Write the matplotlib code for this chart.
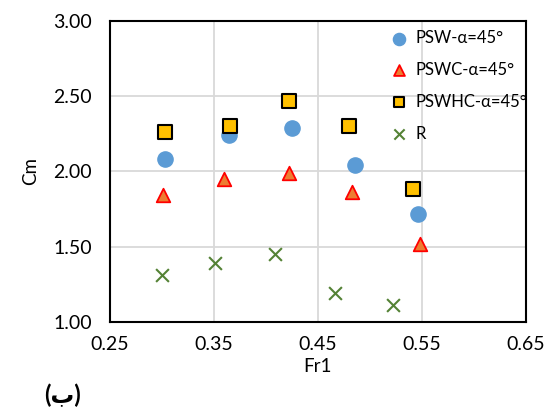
import matplotlib as mpl
mpl.rcParams['figure.dpi'] = 100
mpl.rcParams['font.family'] = ['Lato', 'DejaVu Sans']
import matplotlib.pyplot as plt

# Fr1 (eje x) y Cm (eje y) para cada serie
fr_psw = [0.303, 0.364, 0.425, 0.486, 0.546]
cm_psw = [2.08, 2.24, 2.29, 2.04, 1.72]

fr_pswc = [0.301, 0.360, 0.422, 0.483, 0.548]
cm_pswc = [1.84, 1.95, 1.99, 1.86, 1.52]

fr_pswhc = [0.303, 0.365, 0.422, 0.480, 0.541]
cm_pswhc = [2.26, 2.30, 2.47, 2.30, 1.88]

fr_r = [0.300, 0.351, 0.409, 0.466, 0.522]
cm_r = [1.31, 1.39, 1.45, 1.19, 1.11]

xticks = [0.25, 0.35, 0.45, 0.55, 0.65]
yticks = [1.00, 1.50, 2.00, 2.50, 3.00]

fig = plt.figure(figsize=(5.53, 4.09))
ax = fig.add_axes([0.199, 0.213, 0.752, 0.736])

s1 = ax.scatter(fr_psw, cm_psw, marker='o', s=120, color='#5B9BD5', zorder=3)
s2 = ax.scatter(fr_pswc, cm_pswc, marker='^', s=95, facecolor='#ED7D31',
                edgecolor='#FF0000', linewidth=1.3, zorder=3)
s3 = ax.scatter(fr_pswhc, cm_pswhc, marker='s', s=90, facecolor='#FFC000',
                edgecolor='black', linewidth=1.5, zorder=3)
s4 = ax.scatter(fr_r, cm_r, marker='x', s=85, color='#548235', linewidth=1.5, zorder=3)

ax.set_xlim(0.25, 0.65)
ax.set_ylim(1.0, 3.0)
ax.set_xticks(xticks)
ax.set_yticks(yticks)
ax.set_xticklabels(['%.2f' % v for v in xticks])
ax.set_yticklabels(['%.2f' % v for v in yticks])
ax.tick_params(length=0, labelsize=14)
ax.tick_params(axis='x', pad=10)
ax.tick_params(axis='y', pad=13)
ax.grid(True, color='#d9d9d9', linewidth=1.3)
ax.set_axisbelow(True)
for sp in ax.spines.values():
    sp.set_linewidth(1.5)

ax.set_xlabel('Fr1', fontsize=13.5, labelpad=4)
ax.set_ylabel('Cm', fontsize=13.5, labelpad=10)

ax.legend((s1, s2, s3, s4), ('PSW-α=45°', 'PSWC-α=45°', 'PSWHC-α=45°', 'R'),
          loc='upper left', bbox_to_anchor=(0.632, 1.0), frameon=False,
          fontsize=12, handletextpad=0.0, labelspacing=0.95, borderaxespad=0.15,
          markerscale=0.8)

fig.text(0.08, 0.015, '(ب)', fontsize=17, fontweight='bold',
         family=['Lato', 'DejaVu Sans'])

plt.savefig('out.png')
